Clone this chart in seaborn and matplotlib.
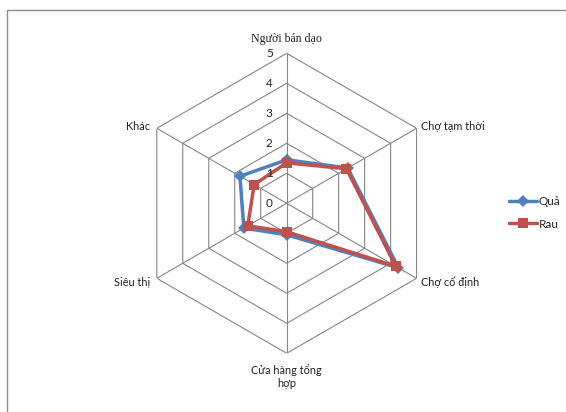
import numpy as np
import pandas as pd
import matplotlib
matplotlib.use("Agg")
import matplotlib.pyplot as plt
from matplotlib.patches import Rectangle
from matplotlib.lines import Line2D
import seaborn as sns

# Kênh mua rau quả
categories = ["Người bán dạo", "Chợ tạm thời", "Chợ cố định",
              "Cửa hàng tổng\nhợp", "Siêu thị", "Khác"]
qua = [1.45, 2.35, 4.3, 1.05, 1.65, 1.8]
rau = [1.35, 2.3, 4.2, 0.95, 1.5, 1.25]
series_names = ["Quả", "Rau"]
radial_ticks = [0, 1, 2, 3, 4, 5]

colors = {"Quả": "#4F81BD", "Rau": "#C0504D"}
markers = {"Quả": "D", "Rau": "s"}
marker_sizes = {"Quả": 6.5, "Rau": 7.0}
grid_color = "#868686"

sns.set_theme(style="white")
plt.rcParams["font.family"] = ["Lato", "DejaVu Sans"]

n = len(categories)
theta = np.arange(n) * 2 * np.pi / n

# long-form table, each series closed back to its first point
rows = []
for name, vals in zip(series_names, [qua, rau]):
    for i in list(range(n)) + [0]:
        rows.append({"series": name, "theta": theta[i], "value": vals[i]})
df = pd.DataFrame(rows)

W, H = 566, 412
fig = plt.figure(figsize=(W / 100, H / 100), dpi=100)
fig.patch.set_facecolor("white")

# chart frame
fig.patches.append(Rectangle((7 / W, -0.2), 1.5, (H - 9.5) / H + 0.2,
                             transform=fig.transFigure, fill=False,
                             edgecolor="#8c8c8c", linewidth=1.0))

cx, cy, R = 286.7, 203.3, 150
ax = fig.add_axes([(cx - R) / W, (H - cy - R) / H, 2 * R / W, 2 * R / H],
                  projection="polar")
ax.set_theta_offset(np.pi / 2)
ax.set_theta_direction(-1)
ax.set_ylim(0, 5)
ax.grid(False)
ax.spines["polar"].set_visible(False)
ax.set_xticks([])
ax.set_yticks([])
ax.set_facecolor("none")

# hexagonal grid and spokes
closed = np.append(theta, theta[0])
for r in radial_ticks[1:]:
    ax.plot(closed, [r] * (n + 1), color=grid_color, lw=0.8, zorder=1)
for t in theta:
    ax.plot([t, t], [0, radial_ticks[-1]], color=grid_color, lw=0.8, zorder=1)

# series lines, blue first so red sits on top
for s in series_names:
    sns.lineplot(data=df[df["series"] == s], x="theta", y="value",
                 color=colors[s], marker=markers[s], sort=False,
                 estimator=None, linewidth=2.5, markersize=marker_sizes[s],
                 markeredgewidth=0, legend=False, ax=ax, zorder=3)
ax.set_xlabel("")
ax.set_ylabel("")
ax.set_ylim(0, 5)

# radial tick labels
for r in radial_ticks:
    ax.annotate(str(r), xy=(0, r), xytext=(-12.5, 0), textcoords="offset points",
                ha="center", va="center", fontsize=8.5, color="#222222")

# category labels
offsets = [((0, 10), "center", "center"),
           ((3.5, 1.5), "left", "center"),
           ((3.5, -3), "left", "center"),
           ((0, -16.5), "center", "center"),
           ((-5, -3), "right", "center"),
           ((-5, 1.5), "right", "center")]
for i, (lab, (off, ha, va)) in enumerate(zip(categories, offsets)):
    kw = {"fontsize": 7.8}
    if i == 0:
        kw = {"family": ["Liberation Serif"], "fontsize": 8.6}
    ax.annotate(lab, xy=(theta[i], 5), xytext=off, textcoords="offset points",
                ha=ha, va=va, color="#222222",
                linespacing=1.2, annotation_clip=False, **kw)

handles = [Line2D([], [], color=colors[s], marker=markers[s], lw=2.5,
                  markersize=marker_sizes[s], markeredgewidth=0)
           for s in series_names]
fig.legend(handles, series_names, loc="center left",
           bbox_to_anchor=(503 / W, 1 - 213 / H), frameon=False,
           fontsize=8.5, handlelength=2.4, handletextpad=0.1,
           labelspacing=0.95, borderpad=0)

fig.savefig("out.png", dpi=100, facecolor="white")
